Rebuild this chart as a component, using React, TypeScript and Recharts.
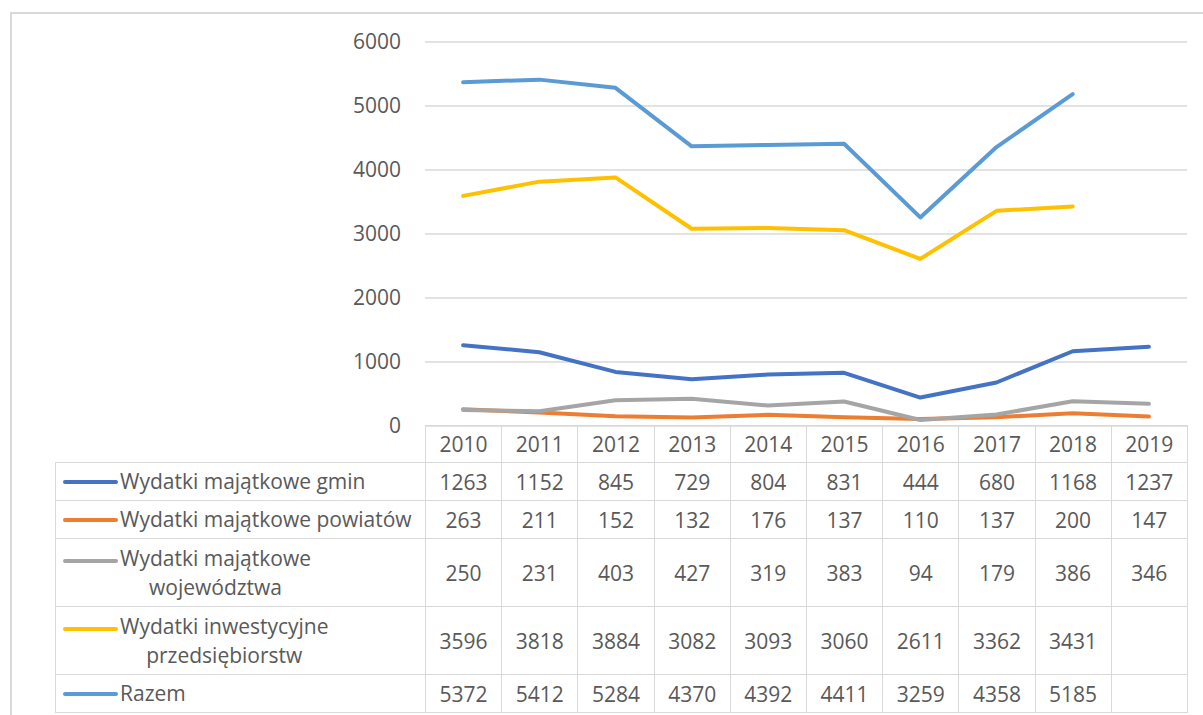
import React from "react";
import { LineChart, Line, XAxis, YAxis, CartesianGrid } from "recharts";

const YEARS = ["2010", "2011", "2012", "2013", "2014", "2015", "2016", "2017", "2018", "2019"];

const GMINY = [1263, 1152, 845, 729, 804, 831, 444, 680, 1168, 1237];
const POWIATY = [263, 211, 152, 132, 176, 137, 110, 137, 200, 147];
const WOJEWODZTWA = [250, 231, 403, 427, 319, 383, 94, 179, 386, 346];
const PRZEDSIEBIORSTWA: (number | null)[] = [3596, 3818, 3884, 3082, 3093, 3060, 2611, 3362, 3431, null];
const RAZEM: (number | null)[] = [5372, 5412, 5284, 4370, 4392, 4411, 3259, 4358, 5185, null];

const Y_TICKS = [0, 1000, 2000, 3000, 4000, 5000, 6000];

// Excel office palette
const SERIES = [
  { key: "gminy", label: ["Wydatki majątkowe gmin"], color: "#4472C4", values: GMINY },
  { key: "powiaty", label: ["Wydatki majątkowe powiatów"], color: "#ED7D31", values: POWIATY },
  { key: "woj", label: ["Wydatki majątkowe", "województwa"], color: "#A5A5A5", values: WOJEWODZTWA },
  { key: "przeds", label: ["Wydatki inwestycyjne", "przedsiębiorstw"], color: "#FFC000", values: PRZEDSIEBIORSTWA },
  { key: "razem", label: ["Razem"], color: "#5B9BD5", values: RAZEM },
];

const FONT = "'Open Sans', sans-serif";
const TEXT = "#595959";
const GRID = "#D9D9D9";
const FONT_SIZE = 21;

const PLOT_LEFT = 425;
const PLOT_RIGHT = 1187;
const PLOT_BOTTOM = 426;
const COL_W = (PLOT_RIGHT - PLOT_LEFT) / YEARS.length;
const ROW_H = [37, 38, 38, 68, 68, 38];

const data = YEARS.map((year, i) => {
  const row: Record<string, string | number | null> = { year };
  SERIES.forEach((s) => {
    row[s.key] = s.values[i];
  });
  return row;
});

function DataTable() {
  const cell: React.CSSProperties = {
    border: `1.5px solid ${GRID}`,
    padding: 0,
    textAlign: "center",
    color: TEXT,
    fontSize: FONT_SIZE,
    fontFamily: FONT,
  };
  return (
    <table
      style={{
        position: "absolute",
        left: 55,
        top: 425,
        borderCollapse: "collapse",
        tableLayout: "fixed",
        width: PLOT_RIGHT - 55,
      }}
    >
      <colgroup>
        <col style={{ width: PLOT_LEFT - 55 }} />
        {YEARS.map((y) => (
          <col key={y} style={{ width: COL_W }} />
        ))}
      </colgroup>
      <tbody>
        <tr style={{ height: ROW_H[0] }}>
          <td style={{ padding: 0, border: "none" }} />
          {YEARS.map((y) => (
            <td key={y} style={cell}>{y}</td>
          ))}
        </tr>
        {SERIES.map((s, r) => (
          <tr key={s.key} style={{ height: ROW_H[r + 1] }}>
            <td style={{ ...cell, textAlign: "left" }}>
              <div style={{ display: "flex", alignItems: "center", paddingLeft: 7 }}>
                <div
                  style={{
                    width: 55,
                    height: 4,
                    borderRadius: 2,
                    background: s.color,
                    flex: "none",
                    alignSelf: s.label.length > 1 ? "flex-start" : "center",
                    marginTop: s.label.length > 1 ? 15 : 0,
                    marginRight: 2,
                  }}
                />
                <div style={{ textAlign: "center", lineHeight: "29px", whiteSpace: "nowrap" }}>
                  {s.label.map((t) => (
                    <div key={t}>{t}</div>
                  ))}
                </div>
              </div>
            </td>
            {s.values.map((v, i) => (
              <td key={i} style={cell}>{v ?? ""}</td>
            ))}
          </tr>
        ))}
      </tbody>
    </table>
  );
}

export default function App() {
  return (
    <div
      style={{
        position: "fixed",
        left: 0,
        top: 0,
        width: 1203,
        height: 715,
        background: "#fff",
        overflow: "hidden",
        fontFamily: FONT,
      }}
    >
      <div
        style={{
          position: "absolute",
          left: 10,
          top: 12,
          width: 1300,
          height: 800,
          border: `2px solid ${GRID}`,
          boxSizing: "border-box",
        }}
      />
      <div style={{ position: "absolute", left: 0, top: 0 }}>
        <LineChart
          width={1203}
          height={450}
          data={data}
          margin={{ top: 42, right: 1203 - PLOT_RIGHT, bottom: 450 - PLOT_BOTTOM, left: PLOT_LEFT - 80 }}
        >
          <CartesianGrid vertical={false} stroke={GRID} strokeWidth={1.5} />
          <XAxis dataKey="year" hide padding={{ left: COL_W / 2, right: COL_W / 2 }} />
          <YAxis
            width={80}
            domain={[0, 6000]}
            ticks={Y_TICKS}
            interval={0}
            axisLine={false}
            tickLine={false}
            tickMargin={18}
            tick={{ fill: TEXT, fontSize: FONT_SIZE, fontFamily: FONT }}
          />
          {SERIES.map((s) => (
            <Line
              key={s.key}
              type="linear"
              dataKey={s.key}
              stroke={s.color}
              strokeWidth={4}
              strokeLinecap="round"
              strokeLinejoin="round"
              dot={false}
              activeDot={false}
              connectNulls={false}
              isAnimationActive={false}
            />
          ))}
        </LineChart>
      </div>
      <DataTable />
    </div>
  );
}
